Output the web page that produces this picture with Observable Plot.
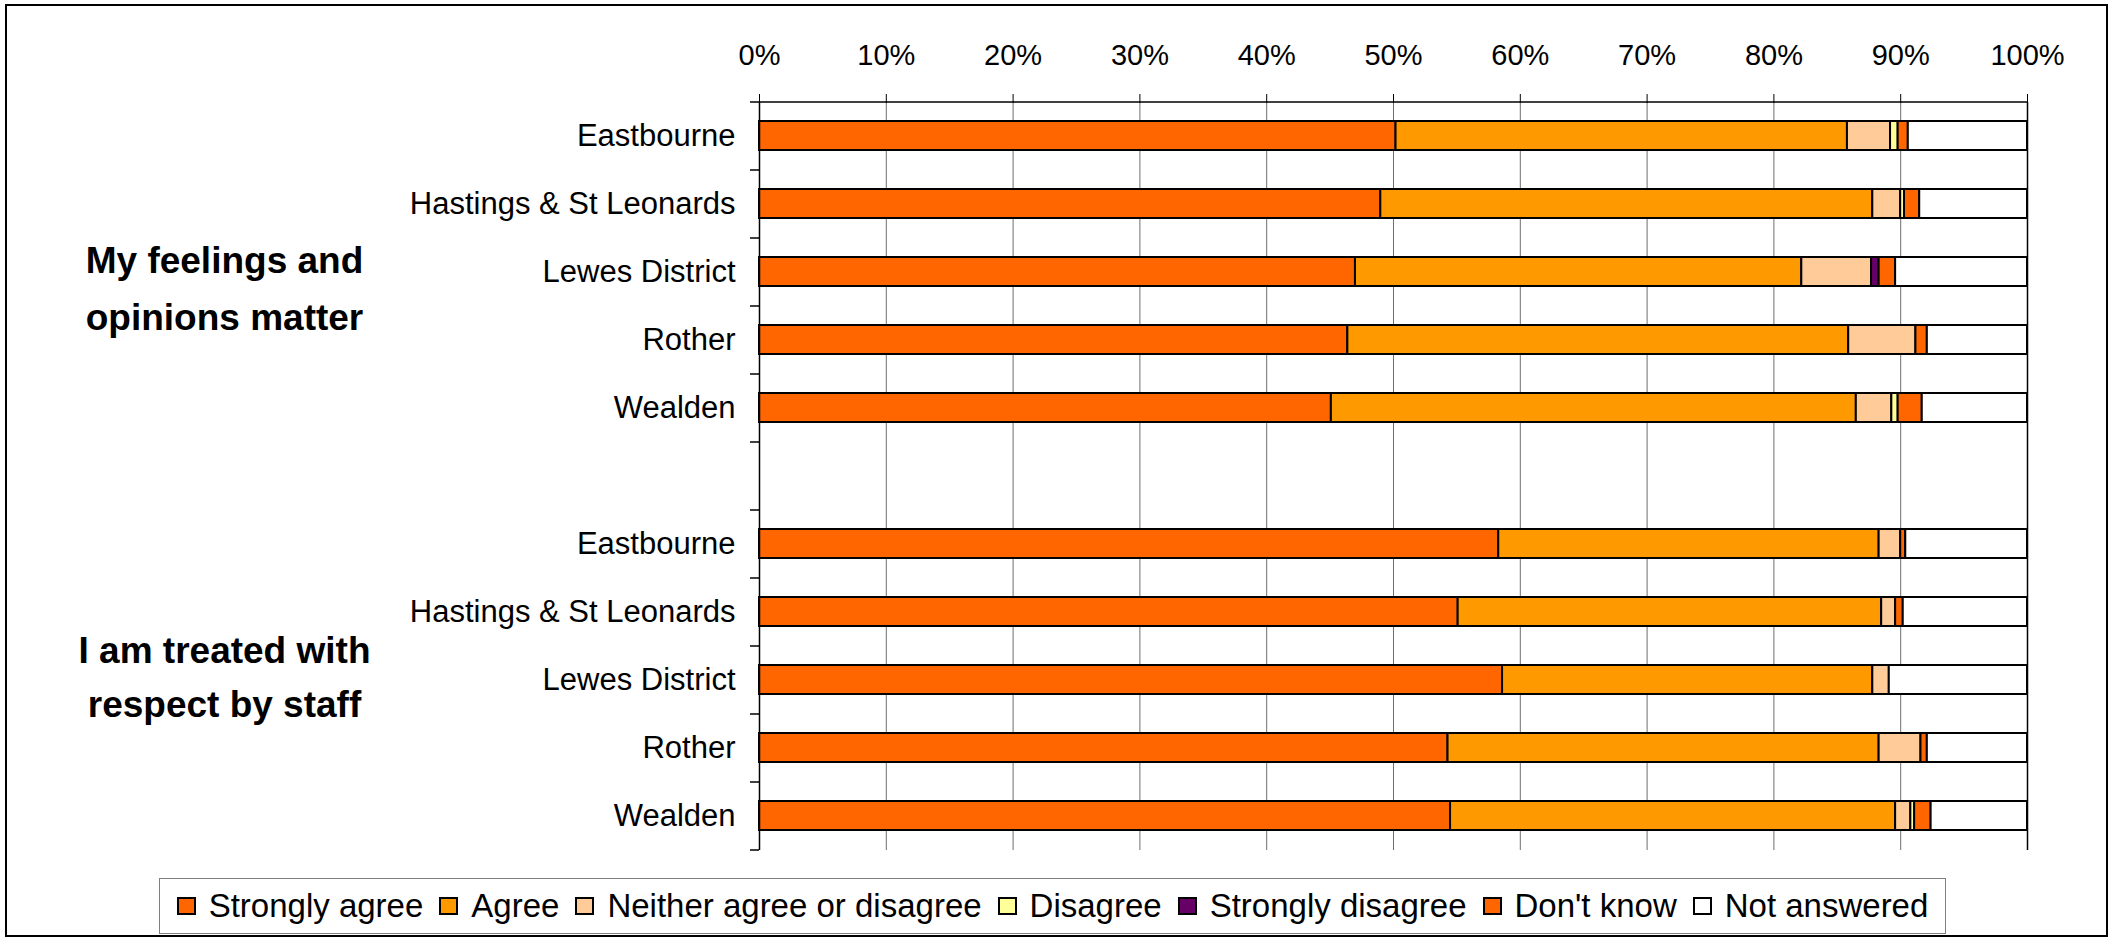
<!DOCTYPE html>
<html>
<head>
<meta charset="utf-8">
<script src="https://cdn.jsdelivr.net/npm/d3@7"></script>
<script src="https://cdn.jsdelivr.net/npm/@observablehq/plot@0.6"></script>
<style>
html,body{margin:0;padding:0;background:#fff;}
#wrap{position:relative;width:2114px;height:939px;font-family:"Liberation Sans",Arial,sans-serif;overflow:hidden;}
#frame{position:absolute;left:5px;top:4px;width:2099px;height:929px;border:2px solid #000;pointer-events:none;}
#chart{position:absolute;left:0;top:0;}
#legend{position:absolute;left:159px;top:878px;width:1787px;height:56px;border:1px solid #808080;box-sizing:border-box;display:flex;align-items:center;justify-content:center;font-size:33px;color:#000;background:#fff;white-space:nowrap;}
.item{display:flex;align-items:center;margin:0 8px;}
.sw{width:15px;height:14px;border:2px solid #000;margin-right:13px;}
</style>
</head>
<body>
<div id="wrap">
  <div id="chart"></div>
  <div id="legend"></div>
  <div id="frame"></div>
</div>
<script>
// ---- data ----
const districts = ["Eastbourne", "Hastings & St Leonards", "Lewes District", "Rother", "Wealden"];
const questions = ["My feelings and\nopinions matter", "I am treated with\nrespect by staff"];
const responses = ["Strongly agree", "Agree", "Neither agree or disagree", "Disagree", "Strongly disagree", "Don't know", "Not answered"];
const colors = ["#FF6600", "#FF9900", "#FFCC99", "#FFFF99", "#660066", "#FF6600", "#FFFFFF"];
// values in % : first 5 = question 1 districts, last 5 = question 2 districts
const stronglyAgree    = [50.2, 49.0, 47.0, 46.4, 45.1, 58.3, 55.1, 58.6, 54.3, 54.5];
const agree            = [35.6, 38.8, 35.2, 39.5, 41.4, 30.0, 33.4, 29.2, 34.0, 35.1];
const neither          = [3.4, 2.2, 5.5, 5.3, 2.8, 1.7, 1.1, 1.3, 3.3, 1.2];
const disagree         = [0.6, 0.3, 0, 0, 0.5, 0, 0, 0, 0, 0.3];
const stronglyDisagree = [0, 0, 0.6, 0, 0, 0, 0, 0, 0, 0];
const dontKnow         = [0.8, 1.2, 1.3, 0.9, 1.9, 0.4, 0.6, 0, 0.5, 1.3];
const notAnswered      = [9.4, 8.5, 10.4, 7.9, 8.3, 9.6, 9.8, 10.9, 7.9, 7.6];
const xTicks = [0, 10, 20, 30, 40, 50, 60, 70, 80, 90, 100];

// ---- build ----
const series = [stronglyAgree, agree, neither, disagree, stronglyDisagree, dontKnow, notAnswered];
const rows = questions.flatMap((q, qi) => districts.map((d, di) => ({key: qi + "|" + d, district: d, idx: qi * districts.length + di})));
const domain = [...rows.slice(0, 5).map(r => r.key), "gap", ...rows.slice(5).map(r => r.key)];
const long = [];
rows.forEach(r => responses.forEach((resp, ri) => {
  const v = series[ri][r.idx];
  if (v > 0) long.push({key: r.key, response: resp, value: v});
}));
const mid1 = "0|Lewes District", mid2 = "1|Lewes District";
const font = '"Liberation Sans", Arial, sans-serif';

const chart = Plot.plot({
  width: 2114,
  height: 870,
  marginTop: 102,
  marginBottom: 20,
  marginLeft: 759,
  marginRight: 87,
  style: {fontFamily: font, color: "#000", background: "transparent", overflow: "visible"},
  x: {domain: [0, 100], axis: null, label: null},
  y: {domain, paddingInner: 0.57, paddingOuter: 0.285, axis: null, label: null},
  color: {domain: responses, range: colors},
  marks: [
    Plot.ruleX(xTicks.filter(t => t > 0 && t < 100), {stroke: "#6e6e6e", strokeWidth: 1}),
    Plot.barX(long, Plot.stackX({y: "key", x: "value", fill: "response", stroke: "#000", strokeWidth: 2})),
    Plot.ruleX([0, 100], {stroke: "#000", strokeWidth: 1.5}),
    Plot.ruleY([domain[0]], {dy: -34, stroke: "#000", strokeWidth: 1.5}),
    Plot.ruleY(domain, {dy: -34, dx: -9, insetRight: 1259, stroke: "#000", strokeWidth: 1.5}),
    Plot.ruleY([domain[domain.length - 1]], {dy: 34, dx: -9, insetRight: 1259, stroke: "#000", strokeWidth: 1.5}),
    Plot.axisX({anchor: "top", ticks: xTicks, tickFormat: d => d + "%", tickSize: 9, tickPadding: 29, fontSize: 29, label: null}),
    Plot.axisY({tickSize: 0, tickPadding: 24, fontSize: 31, label: null, tickFormat: k => k === "gap" ? "" : k.split("|")[1]}),
    Plot.text([questions[0]], {y: () => mid1, text: d => d, frameAnchor: "left", dx: -535, dy: 11, textAnchor: "middle", fontSize: 37, fontWeight: "bold", lineHeight: 1.55}),
    Plot.text([questions[1]], {y: () => mid2, text: d => d, frameAnchor: "left", dx: -535, dy: -7, textAnchor: "middle", fontSize: 37, fontWeight: "bold", lineHeight: 1.45})
  ]
});
document.getElementById("chart").appendChild(chart);

// legend
const legend = document.getElementById("legend");
responses.forEach((r, i) => {
  const it = document.createElement("div");
  it.className = "item";
  const sw = document.createElement("div");
  sw.className = "sw";
  sw.style.background = colors[i];
  const tx = document.createElement("span");
  tx.textContent = r;
  it.appendChild(sw);
  it.appendChild(tx);
  legend.appendChild(it);
});
</script>
</body>
</html>
